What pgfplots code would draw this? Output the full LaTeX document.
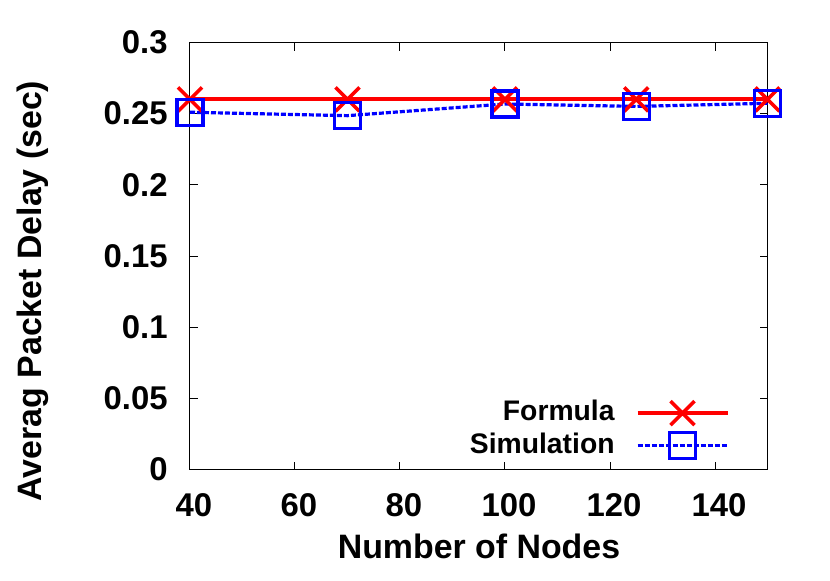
\documentclass[border=0pt]{standalone}
\usepackage{pgfplots}
\pgfplotsset{compat=1.18}
\usepackage{fontspec}
\setmainfont{Liberation Sans}
\begin{document}
\bfseries\fontsize{16.5}{19.8}\selectfont
\begin{tikzpicture}
\useasboundingbox (-95bp,-55.75bp) rectangle (320bp,234.75bp);
\begin{axis}[
  scale only axis,
  width=288.75bp, height=213.5bp,
  xmin=40, xmax=150, ymin=0, ymax=0.3,
  xtick={40,60,80,100,120,140},
  ytick={0,0.05,0.1,0.15,0.2,0.25,0.3},
  yticklabels={0,0.05,0.1,0.15,0.2,0.25,0.3},
  tick align=inside,
  major tick length=4bp,
  axis line style={line width=0.5bp},
  every tick/.style={line width=0.5bp, black},
  /pgf/number format/assume math mode=true,
  ticklabel style={font=\bfseries\fontsize{16.5}{19.8}\selectfont, inner sep=0pt},
  xticklabel style={anchor=base, yshift=-23.6bp, xshift=2bp},
  yticklabel style={anchor=east, xshift=-11bp},
  xlabel={Number of Nodes},
  ylabel={Averag Packet Delay (sec)},
  xlabel style={font=\bfseries\fontsize{17}{20}\selectfont, at={(axis description cs:0.5004,-0.2096)}, anchor=base, inner sep=0pt},
  ylabel style={font=\bfseries\fontsize{17}{20}\selectfont, at={(axis description cs:-0.2563,0.418)}, anchor=base, inner sep=0pt},
  legend style={draw=none, fill=none, at={(rel axis cs:0.935,0.024)}, anchor=south east,
    font=\bfseries\fontsize{14.2}{17}\selectfont, row sep=3.5bp, column sep=10.5bp, inner sep=0pt,
    nodes={inner sep=0pt}},
  legend cell align=right,
  legend plot pos=right,
  legend image code/.code={\draw[mark repeat=2,mark phase=2,#1] plot coordinates {(0bp,0bp) (22.5bp,0bp) (45bp,0bp)};},
]
\addplot[red, line width=2bp, mark=x, mark size=8.5bp, mark options={line width=1.8bp, solid}]
  coordinates {(40,0.26) (70,0.26) (100,0.26) (125,0.26) (150,0.26)};
\addlegendentry{Formula}
\addplot[blue, line width=1.6bp, dash pattern=on 2.5bp off 1bp, mark=square, mark size=6.5bp, mark options={line width=1.6bp, solid}]
  coordinates {(40,0.251) (70,0.2486) (100,0.2568) (125,0.2551) (150,0.2573)};
\addlegendentry{Simulation}
\end{axis}
\end{tikzpicture}
\end{document}
